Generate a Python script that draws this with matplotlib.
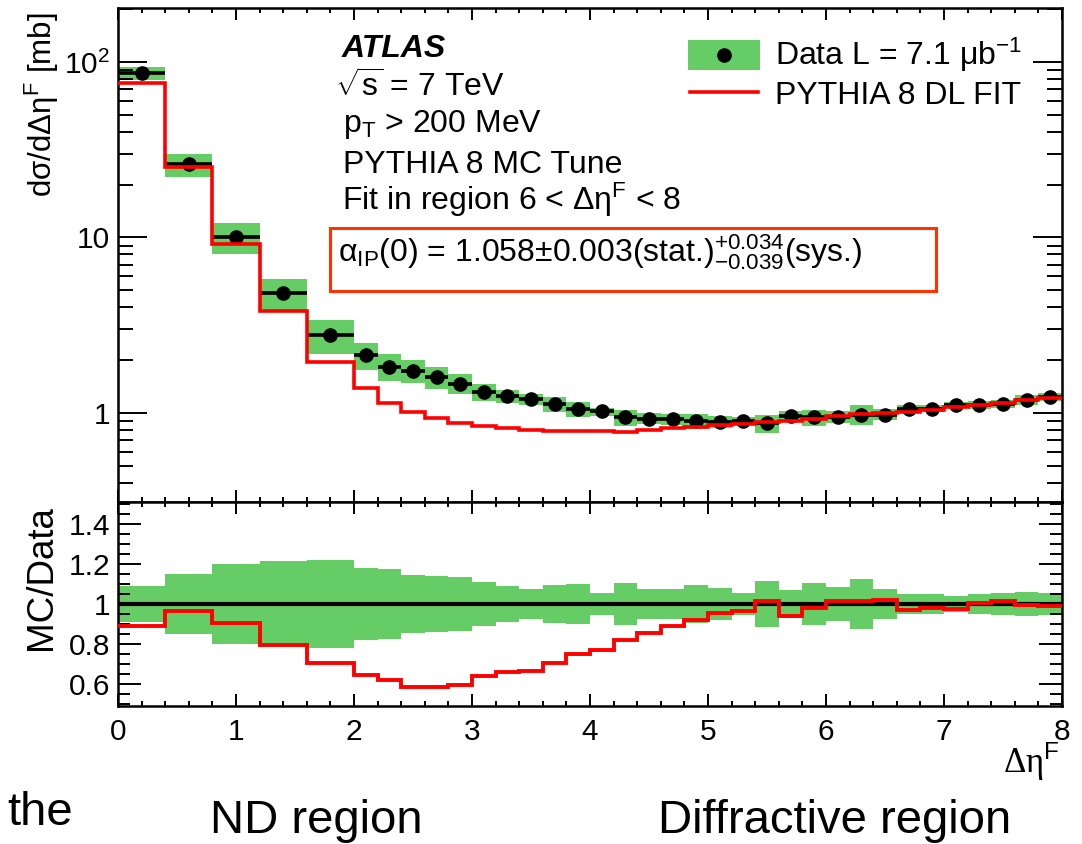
import numpy as np
import matplotlib
matplotlib.use("Agg")
import matplotlib.pyplot as plt
from matplotlib.patches import Rectangle
from matplotlib.lines import Line2D
from matplotlib.ticker import MultipleLocator, FixedLocator, LogLocator, FuncFormatter, NullFormatter

plt.rcParams['font.family'] = ['Liberation Sans', 'DejaVu Sans']
plt.rcParams['mathtext.fontset'] = 'custom'
plt.rcParams['mathtext.rm'] = 'Liberation Sans'
plt.rcParams['mathtext.it'] = 'Liberation Sans'
plt.rcParams['mathtext.bf'] = 'Liberation Sans:bold'

# bin edges in delta eta^F (wide bins below 2, narrow above)
bin_edges = np.array([0.0, 0.4, 0.8, 1.2, 1.6,
                      2.0, 2.2, 2.4, 2.6, 2.8, 3.0, 3.2, 3.4, 3.6, 3.8,
                      4.0, 4.2, 4.4, 4.6, 4.8, 5.0, 5.2, 5.4, 5.6, 5.8,
                      6.0, 6.2, 6.4, 6.6, 6.8, 7.0, 7.2, 7.4, 7.6, 7.8, 8.0])

# measured dsigma/d(delta eta^F) [mb]
data = np.array([86, 26.1, 10.1, 4.8, 2.78,
                 2.14, 1.84, 1.74, 1.60, 1.47,
                 1.32, 1.25, 1.20, 1.12, 1.05,
                 1.02, 0.945, 0.93, 0.92, 0.90,
                 0.893, 0.90, 0.873, 0.96, 0.945,
                 0.95, 0.98, 0.98, 1.05, 1.06,
                 1.11, 1.11, 1.13, 1.19, 1.23])

# relative total uncertainty (green band)
rel_err = np.array([0.088, 0.152, 0.20, 0.213, 0.222,
                    0.178, 0.175, 0.147, 0.14, 0.133,
                    0.11, 0.088, 0.075, 0.095, 0.10,
                    0.053, 0.107, 0.075, 0.077, 0.095,
                    0.08, 0.057, 0.115, 0.072, 0.105,
                    0.083, 0.127, 0.075, 0.052, 0.05,
                    0.04, 0.052, 0.053, 0.062, 0.053])

# PYTHIA 8 DL fit divided by data
mc_ratio = np.array([0.888, 0.963, 0.905, 0.797, 0.705,
                     0.647, 0.618, 0.585, 0.585, 0.597,
                     0.638, 0.658, 0.663, 0.705, 0.75,
                     0.772, 0.822, 0.855, 0.888, 0.92,
                     0.955, 0.963, 1.013, 0.94, 0.98,
                     1.013, 1.013, 1.02, 0.97, 0.98,
                     0.975, 1.005, 1.013, 0.997, 0.99])

mc = data * mc_ratio
centres = 0.5 * (bin_edges[:-1] + bin_edges[1:])
widths = np.diff(bin_edges)

GREEN = '#66cc66'
W, H = 1082, 844


def fx(px):
    return px / W


def fy(py):
    return 1 - py / H


fig = plt.figure(figsize=(W / 100, H / 100), dpi=100)
ax1 = fig.add_axes([fx(118), fy(502), fx(1062) - fx(118), fy(8) - fy(502)])
ax2 = fig.add_axes([fx(118), fy(706), fx(1062) - fx(118), fy(502) - fy(706)])

# top panel
ax1.bar(bin_edges[:-1], data * 2 * rel_err, bottom=data * (1 - rel_err), width=widths,
        align='edge', color=GREEN, linewidth=0, zorder=1)
ax1.errorbar(centres, data, xerr=widths / 2, fmt='o', color='black', ms=9.5,
             elinewidth=2.6, capsize=0, zorder=3)
ax1.stairs(mc, bin_edges, baseline=None, color='red', linewidth=2.6, zorder=4)
ax1.set_yscale('log')
ax1.set_xlim(0, 8)
ax1.set_ylim(0.311, 203)

# ratio panel
ax2.bar(bin_edges[:-1], 2 * rel_err, bottom=1 - rel_err, width=widths,
        align='edge', color=GREEN, linewidth=0, zorder=1)
ax2.axhline(1, color='black', linewidth=3, zorder=2)
ax2.stairs(mc_ratio, bin_edges, baseline=None, color='red', linewidth=2.8, zorder=4)
ax2.set_xlim(0, 8)
ax2.set_ylim(0.49, 1.51)

for ax in (ax1, ax2):
    for s in ax.spines.values():
        s.set_linewidth(1.8)
    ax.xaxis.set_major_locator(MultipleLocator(1))
    ax.xaxis.set_minor_locator(MultipleLocator(0.2))
    ax.tick_params(axis='x', which='both', direction='in', top=True, bottom=True, width=1.4)
    ax.tick_params(axis='x', which='major', length=8.6, pad=8.5, labelsize=21.5)
    ax.tick_params(axis='x', which='minor', length=3.6)
    ax.tick_params(axis='y', which='both', direction='in', left=True, right=True, width=1.4,
                   labelsize=21.5, pad=5.5)

ax1.tick_params(axis='x', labelbottom=False)
ax1.yaxis.set_major_locator(FixedLocator([1, 10, 100]))
ax1.yaxis.set_minor_locator(LogLocator(base=10, subs=np.arange(2, 10)))
ax1.yaxis.set_minor_formatter(NullFormatter())
ax1.yaxis.set_major_formatter(FuncFormatter(lambda v, p: {1: '1', 10: '10', 100: '$10^{2}$'}.get(int(round(v)), '')))
ax1.tick_params(axis='y', which='major', length=21)
ax1.tick_params(axis='y', which='minor', length=10.8)

ax2.yaxis.set_major_locator(FixedLocator([0.6, 0.8, 1.0, 1.2, 1.4]))
ax2.yaxis.set_minor_locator(MultipleLocator(0.05))
ax2.yaxis.set_major_formatter(FuncFormatter(lambda v, p: '%g' % v))
ax2.tick_params(axis='y', which='major', length=16.5)
ax2.tick_params(axis='y', which='minor', length=8.6)

# axis titles
fig.text(fx(42), fy(105), 'dσ/dΔη$^{\\mathrm{F}}$ [mb]', rotation=90,
         ha='center', va='center', fontsize=22.5)
fig.text(fx(42), fy(578), 'MC/Data', rotation=90, ha='center', va='center', fontsize=26.5)
fig.text(fx(1060), fy(773), 'Δη$^{\\mathrm{F}}$', ha='right', va='baseline',
         fontsize=25, family=['Liberation Serif', 'DejaVu Serif'])

# labels inside the top panel
fs = 23
fig.text(fx(342), fy(57), 'ATLAS', fontsize=fs, fontweight='bold', fontstyle='italic', va='baseline')
fig.text(fx(335), fy(97), r'$\sqrt{\mathrm{s}}$ = 7 TeV', fontsize=fs, va='baseline')
fig.text(fx(343), fy(132), r'p$_{\mathrm{T}}$ > 200 MeV', fontsize=fs, va='baseline')
fig.text(fx(343), fy(173), 'PYTHIA 8 MC Tune', fontsize=fs, va='baseline')
fig.text(fx(342), fy(210), 'Fit in region 6 < Δη$^{\\mathrm{F}}$ < 8', fontsize=fs, va='baseline')
fig.text(fx(338), fy(262),
         'α$_{\\mathrm{IP}}$(0) = 1.058±0.003(stat.)$^{+0.034}_{-0.039}$(sys.)',
         fontsize=fs, va='baseline')
fig.add_artist(Rectangle((fx(330), fy(291)), fx(936) - fx(330), fy(228) - fy(291),
                         transform=fig.transFigure, fill=False, edgecolor='#ff3300', linewidth=2.2))

# legend
fig.add_artist(Rectangle((fx(688), fy(70)), fx(760) - fx(688), fy(40) - fy(70),
                         transform=fig.transFigure, facecolor=GREEN, edgecolor='none'))
fig.add_artist(Line2D([fx(724)], [fy(55)], transform=fig.transFigure, marker='o',
                      color='black', ms=9.5, linestyle='none'))
fig.add_artist(Line2D([fx(690), fx(758)], [fy(92), fy(92)], transform=fig.transFigure,
                      color='red', linewidth=2.6))
fig.text(fx(775), fy(65), 'Data L = 7.1 μb$^{\\mathrm{-1}}$', fontsize=fs, va='baseline')
fig.text(fx(775), fy(104), 'PYTHIA 8 DL FIT', fontsize=fs, va='baseline')

# captions below the chart
fig.text(fx(7), fy(825), 'the', fontsize=34, va='baseline')
fig.text(fx(210), fy(833), 'ND region', fontsize=34, va='baseline')
fig.text(fx(658), fy(833), 'Diffractive region', fontsize=34, va='baseline')

fig.savefig('out.png', dpi=100)
